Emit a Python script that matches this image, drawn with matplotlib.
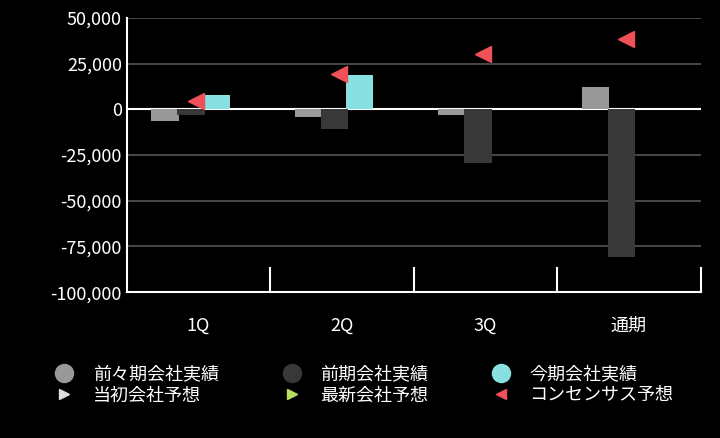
import numpy as np
import matplotlib.pyplot as plt
from matplotlib.lines import Line2D

plt.rcParams['font.family'] = ['Noto Sans CJK JP', 'DejaVu Sans']

categories = ["1Q", "2Q", "3Q", "通期"]
prev2 = [-6500, -4400, -3300, 12100]      # 前々期会社実績
prev1 = [-3300, -11000, -29600, -80700]   # 前期会社実績
curr = [7700, 18700, np.nan, np.nan]      # 今期会社実績
consensus = [4600, 19200, 30200, 38400]   # コンセンサス予想

fig = plt.figure(figsize=(7.2, 4.38), dpi=100, facecolor="black")
ax = fig.add_axes([0.176, 0.333, 0.797, 0.626], facecolor="black")

x = np.arange(len(categories))
w = 0.19
ax.bar(x - 0.234, prev2, w, color="#999999", zorder=3)
ax.bar(x - 0.052, prev1, w, color="#383838", zorder=3)
ax.bar(x + 0.122, curr, w, color="#88e0e0", zorder=3)
ax.plot(x - 0.02, consensus, ls="none", marker="<", ms=12, color="#f05058", zorder=4)

ax.set_xlim(-0.5, 3.5)
ax.set_ylim(-100000, 50000)
ax.set_yticks(np.arange(-100000, 50001, 25000))
ax.yaxis.set_major_formatter(plt.FuncFormatter(lambda v, p: f"{int(v):,}"))
ax.grid(axis="y", color="#555555", lw=1.2, zorder=0)
ax.axhline(0, color="white", lw=1.5, zorder=2)

ax.set_xticks(x)
ax.set_xticklabels(categories)
ax.tick_params(axis="x", length=0, colors="white", labelsize=13, pad=18)
ax.tick_params(axis="y", length=0, colors="white", labelsize=13)
for b in [0.5, 1.5, 2.5, 3.5]:
    ax.plot([b, b], [-100000, -87000], color="white", lw=1.5, clip_on=False)
for s in ["top", "right"]:
    ax.spines[s].set_visible(False)
for s in ["left", "bottom"]:
    ax.spines[s].set_color("white")
    ax.spines[s].set_linewidth(1.5)

handles = [
    Line2D([], [], ls="none", marker="o", ms=13, color="#999999", label="前々期会社実績"),
    Line2D([], [], ls="none", marker=">", ms=7, color="#dddddd", label="当初会社予想"),
    Line2D([], [], ls="none", marker="o", ms=13, color="#383838", label="前期会社実績"),
    Line2D([], [], ls="none", marker=">", ms=7, color="#b8e060", label="最新会社予想"),
    Line2D([], [], ls="none", marker="o", ms=13, color="#88e0e0", label="今期会社実績"),
    Line2D([], [], ls="none", marker="<", ms=7, color="#f05058", label="コンセンサス予想"),
]
leg = fig.legend(handles=handles, ncol=3, loc="lower center", bbox_to_anchor=(0.5, 0.04),
                 frameon=False, fontsize=13, labelcolor="white", handletextpad=0.6,
                 columnspacing=3.0, labelspacing=0.15)

fig.savefig("out.png", dpi=100, facecolor="black")
